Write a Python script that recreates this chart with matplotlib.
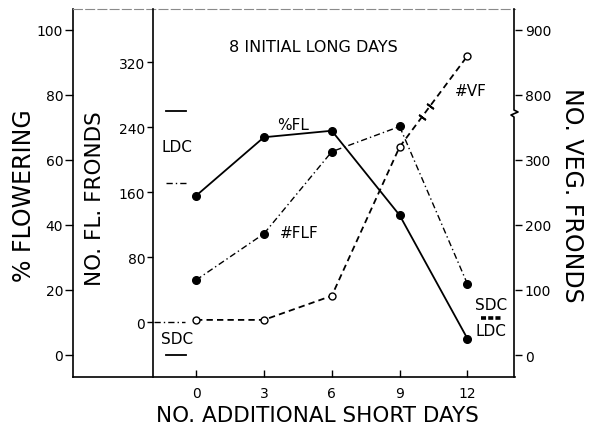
import numpy as np
import matplotlib
matplotlib.use('Agg')
import matplotlib.pyplot as plt
from matplotlib.lines import Line2D

# ---- data ----
days = [0, 3, 6, 9, 12]
pct_flowering = [49, 67, 69, 43, 5]        # % FL (solid)
fl_fronds = [52, 109, 210, 241, 47]         # # FLF (dash-dot)
veg_fronds = [54, 54, 91, 320, 860]         # # VF (dashed, open)

ldc_pct, sdc_pct = 75, 0
ldc_fl, sdc_fl = 171, 0
ctrl_veg = 57

pct_ticks = [0, 20, 40, 60, 80, 100]
fl_ticks = [0, 80, 160, 240, 320]
veg_ticks = [0, 100, 200, 300, 800, 900]

plt.rcParams['font.family'] = ['DejaVu Sans']

W, H = 596, 431
fig = plt.figure(figsize=(W / 100, H / 100), dpi=100)


def fx(x):
    return x / W


def fy(y):
    return 1 - y / H


L, R, T, B = 73, 515, 10, 378
ax = fig.add_axes([fx(L), fy(B), (R - L) / W, (B - T) / H])
ax.set_xlim(-5.44, 14.10)
ax.set_ylim(-6.77, 106.46)

# spines
for s in ['right']:
    ax.spines[s].set_visible(False)
ax.spines['left'].set_linewidth(1.2)
ax.spines['bottom'].set_linewidth(1.2)
ax.spines['top'].set_linewidth(0.8)
ax.spines['top'].set_color('#8a8a8a')
ax.spines['top'].set_linestyle((0, (8, 3)))

ax.set_xticks(days)
ax.set_xticklabels([str(d) for d in days])
ax.tick_params(axis='x', direction='in', length=5, width=1, pad=6.5, labelsize=10)
ax.set_yticks(pct_ticks)
ax.tick_params(axis='y', direction='out', length=5.5, width=1, pad=1.5, labelsize=10)

# inner FL fronds axis
ax2 = ax.twinx()
ax2.set_ylim(-67.3, 385.6)
ax2.yaxis.tick_left()
for s in ['right', 'top', 'bottom']:
    ax2.spines[s].set_visible(False)
ax2.spines['left'].set_position(('axes', (153 - L) / (R - L)))
ax2.spines['left'].set_linewidth(1.2)
ax2.set_yticks(fl_ticks)
ax2.tick_params(axis='y', direction='out', length=4, width=1, pad=1.5, labelsize=10)


# right VF axis with a break
def fwd(v):
    v = np.asarray(v, dtype=float)
    return np.where(v < 770, np.minimum(v, 370), v - 400)


def inv(u):
    u = np.asarray(u, dtype=float)
    return np.where(u < 370, u, u + 400)


ax3 = ax.twinx()
ax3.set_yscale('function', functions=(fwd, inv))
ax3.set_ylim(-33.8, 932)
for s in ['right', 'top', 'bottom', 'left']:
    ax3.spines[s].set_visible(False)
ax3.set_yticks(veg_ticks)
ax3.set_yticklabels([str(v) for v in veg_ticks])
ax3.tick_params(axis='y', direction='out', length=5, width=1, pad=2, labelsize=10)

# broken right spine
bx = [514, 514, 518, 511, 514, 514]
by = [T, 111, 113, 116, 118, B]
fig.add_artist(Line2D([fx(x) for x in bx], [fy(y) for y in by],
                      transform=fig.transFigure, color='k', lw=1.2))

# ---- series ----
ax.plot(days, pct_flowering, color='k', lw=1.3, marker='o', ms=5.5,
        mfc='k', mec='k', zorder=5)
ax2.plot(days, fl_fronds, color='k', lw=1.0, ls=(0, (4.5, 2.2, 1, 2.2)),
         marker='o', ms=5.5, mfc='k', mec='k', zorder=5)
ax3.plot(days, veg_fronds, color='k', lw=1.3, ls=(0, (3.5, 2.3)),
         marker='o', ms=5, mfc='white', mec='k', mew=1.0, zorder=6)

# break marks on VF line (between last two points, in scale space)
u3, u4 = float(fwd(veg_fronds[3])), float(fwd(veg_fronds[4]))
for t in [10.0, 10.35]:
    u = u3 + (t - days[3]) / (days[4] - days[3]) * (u4 - u3)
    ax3.plot([t], [float(inv(u))], ls='none', marker=(2, 2, 53), ms=6,
             mew=1.3, color='k', zorder=7)

# ---- controls ----
ax.plot([-1.33, -0.44], [ldc_pct, ldc_pct], color='k', lw=1.3)
ax.plot([-1.33, -0.44], [sdc_pct, sdc_pct], color='k', lw=1.3)
ax2.plot([-1.33, -0.44], [ldc_fl, ldc_fl], color='k', lw=1.0,
         ls=(0, (4.5, 2.2, 1, 2.2)))
ax2.plot([-1.85, -0.5], [sdc_fl, sdc_fl], color='k', lw=1.0,
         ls=(0, (4.5, 2.2, 1, 2.2)))
ax3.plot([12.6, 13.5], [ctrl_veg, ctrl_veg], color='k', lw=2.6,
         ls=(0, (1.4, 0.6)))

# ---- text ----
def ftext(x, y, s, **kw):
    kw.setdefault('ha', 'center')
    kw.setdefault('va', 'center')
    fig.text(fx(x), fy(y), s, **kw)


ftext(313, 47, '8 INITIAL LONG DAYS', fontsize=11.5)
ftext(293, 125, '%FL', fontsize=11)
ftext(299, 234, '#FLF', fontsize=11)
ftext(471, 92, '#VF', fontsize=11)
ftext(177, 148, 'LDC', fontsize=11)
ftext(177, 340, 'SDC', fontsize=11)
ftext(491, 306, 'SDC', fontsize=11)
ftext(491, 332, 'LDC', fontsize=11)

ftext(24, 196, '% FLOWERING', fontsize=17, rotation=90)
ftext(95, 199, 'NO. FL. FRONDS', fontsize=15.5, rotation=90)
ftext(572, 195, 'NO. VEG. FRONDS', fontsize=17, rotation=270)
ftext(317, 416, 'NO. ADDITIONAL SHORT DAYS', fontsize=15.5)

fig.savefig('out.png', dpi=100)
